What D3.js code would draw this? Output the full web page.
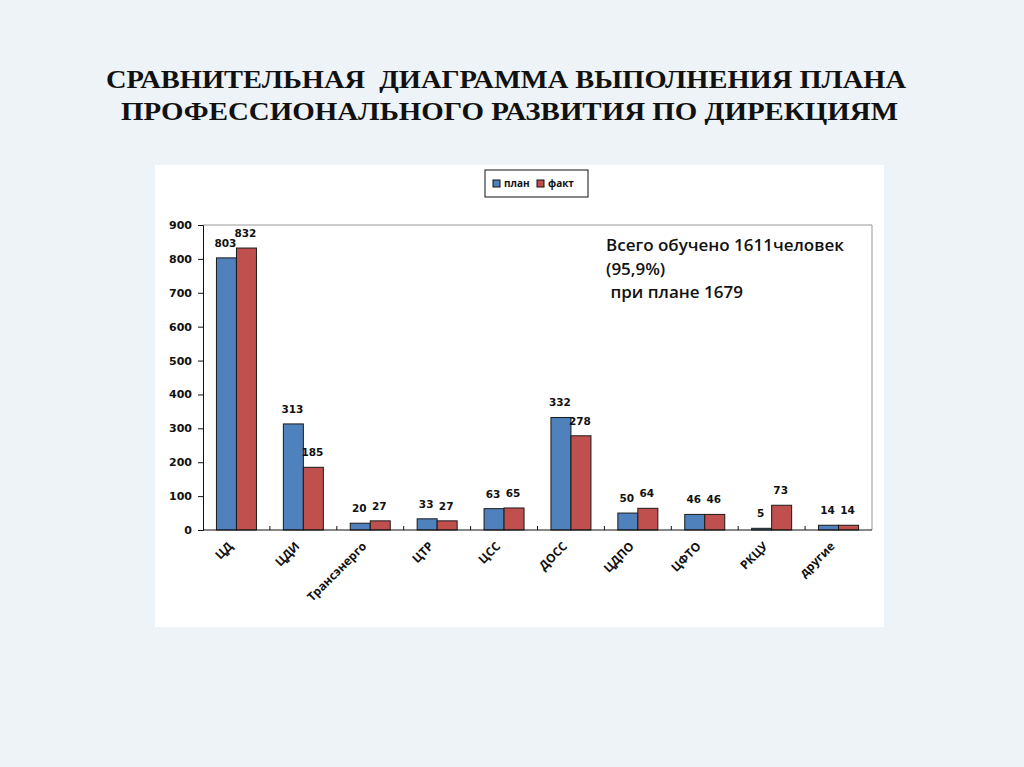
<!DOCTYPE html>
<html>
<head>
<meta charset="utf-8">
<script src="https://cdn.jsdelivr.net/npm/d3@7"></script>
<style>
  body { margin: 0; background: #eef3f7; }
  svg { display: block; }
</style>
</head>
<body>
<div id="chart-area"></div>
<script>
var categories = ["ЦД", "ЦДИ", "Трансэнерго", "ЦТР", "ЦСС", "ДОСС", "ЦДПО", "ЦФТО", "РКЦУ", "другие"];
var plan = [803, 313, 20, 33, 63, 332, 50, 46, 5, 14];
var fact = [832, 185, 27, 27, 65, 278, 64, 46, 73, 14];
var yTicks = [0, 100, 200, 300, 400, 500, 600, 700, 800, 900];
var seriesNames = ["план", "факт"];
var colors = ["#4f81bd", "#c0504d"];
var titleLines = ["СРАВНИТЕЛЬНАЯ  ДИАГРАММА ВЫПОЛНЕНИЯ ПЛАНА", "ПРОФЕССИОНАЛЬНОГО РАЗВИТИЯ ПО ДИРЕКЦИЯМ"];
var noteLines = ["Всего обучено 1611человек", "(95,9%)", " при плане 1679"];

var svg = d3.select("#chart-area").append("svg")
    .attr("width", 1024)
    .attr("height", 767);

svg.append("rect")
  .attr("width", 1024).attr("height", 767)
  .attr("fill", "#eef3f7");

// title
var title = svg.append("g")
  .attr("font-family", "'Liberation Serif', 'Times New Roman', serif")
  .attr("font-weight", "bold")
  .attr("font-size", "26px")
  .attr("fill", "#111");
title.append("text").attr("x", 106).attr("y", 88)
  .attr("textLength", 800).attr("lengthAdjust", "spacingAndGlyphs")
  .style("white-space", "pre")
  .text(titleLines[0]);
title.append("text").attr("x", 121).attr("y", 120)
  .attr("textLength", 777).attr("lengthAdjust", "spacingAndGlyphs")
  .text(titleLines[1]);

// white chart box
svg.append("rect")
  .attr("x", 155).attr("y", 165)
  .attr("width", 729).attr("height", 462)
  .attr("fill", "#fff");

var margin = {left: 203, top: 225};
var width = 872 - 203;
var height = 530 - 225;

var g = svg.append("g")
  .attr("transform", "translate(" + margin.left + ", " + margin.top + ")");

var x = d3.scaleBand()
  .domain(categories)
  .range([0, width]);

var x1 = d3.scaleBand()
  .domain([0, 1])
  .range([0, 40]);

var y = d3.scaleLinear()
  .domain([0, 900])
  .range([height, 0]);

// plot area border (top and right)
g.append("path")
  .attr("d", "M0,0H" + width + "V" + height)
  .attr("fill", "none")
  .attr("stroke", "#999")
  .attr("stroke-width", 1);

var data = categories.map((c, i) => ({cat: c, vals: [plan[i], fact[i]]}));

var groups = g.selectAll(".grp")
  .data(data)
  .enter().append("g")
    .attr("class", "grp")
    .attr("transform", d => "translate(" + (x(d.cat) + (x.bandwidth() - 40) / 2) + ",0)");

groups.selectAll("rect")
  .data(d => d.vals.map((v, k) => ({v: v, k: k})))
  .enter().append("rect")
    .attr("x", d => x1(d.k))
    .attr("y", d => y(d.v))
    .attr("width", x1.bandwidth())
    .attr("height", d => height - y(d.v))
    .attr("fill", d => colors[d.k])
    .attr("stroke", "#1a1a1a")
    .attr("stroke-width", 1);

groups.selectAll("text")
  .data(d => d.vals.map((v, k) => ({v: v, k: k})))
  .enter().append("text")
    .attr("x", d => x1(d.k) + x1.bandwidth() / 2 - 1)
    .attr("y", d => y(d.v) - 11)
    .attr("text-anchor", "middle")
    .attr("font-family", "'DejaVu Sans', Verdana, sans-serif")
    .attr("font-weight", "bold")
    .attr("font-size", "10.5px")
    .attr("fill", "#111")
    .text(d => d.v);

// Y axis
var yAxisCall = d3.axisLeft(y)
  .tickValues(yTicks)
  .tickSize(5)
  .tickPadding(6);
var yAxisGroup = g.append("g").call(yAxisCall);
yAxisGroup.select(".domain").attr("stroke", "#111");
yAxisGroup.selectAll("line").attr("stroke", "#111");
yAxisGroup.selectAll("text")
  .attr("font-family", "'DejaVu Sans', Verdana, sans-serif")
  .attr("font-weight", "bold")
  .attr("font-size", "11px")
  .attr("fill", "#111");

// X axis
var xAxisGroup = g.append("g")
  .attr("transform", "translate(0," + height + ")");
xAxisGroup.append("line")
  .attr("x1", 0).attr("x2", width)
  .attr("stroke", "#111");
xAxisGroup.selectAll(".tk")
  .data(categories.slice(1))
  .enter().append("line")
    .attr("x1", d => x(d)).attr("x2", d => x(d))
    .attr("y1", 0).attr("y2", -4)
    .attr("stroke", "#111");
xAxisGroup.selectAll(".lbl")
  .data(categories)
  .enter().append("text")
    .attr("transform", d => "translate(" + (x(d) + x.bandwidth() / 2 - 3) + ",17) rotate(-45)")
    .attr("text-anchor", "end")
    .attr("font-family", "'Open Sans', 'Liberation Sans', sans-serif")
    .attr("font-weight", "bold")
    .attr("font-size", "12px")
    .attr("fill", "#111")
    .text(d => d);

// legend
var legend = svg.append("g").attr("transform", "translate(485,170)");
legend.append("rect")
  .attr("width", 103).attr("height", 27)
  .attr("fill", "#fff").attr("stroke", "#111");
var items = legend.selectAll(".li")
  .data(seriesNames)
  .enter().append("g")
    .attr("transform", (d, i) => "translate(" + (8 + i * 44) + ",10)");
items.append("rect")
  .attr("width", 7).attr("height", 7)
  .attr("fill", (d, i) => colors[i])
  .attr("stroke", "#111");
items.append("text")
  .attr("x", 11).attr("y", 7)
  .attr("font-family", "'Open Sans', 'Liberation Sans', sans-serif")
  .attr("font-weight", "bold")
  .attr("font-size", "10px")
  .attr("fill", "#111")
  .text(d => d);

// note
svg.append("g")
  .selectAll("text")
  .data(noteLines)
  .enter().append("text")
    .attr("x", 606)
    .attr("y", (d, i) => 251 + i * 23.5)
    .style("white-space", "pre")
    .attr("font-family", "'Open Sans', 'Liberation Sans', sans-serif")
    .attr("font-weight", 600)
    .attr("font-size", "17px")
    .attr("fill", "#111")
    .text(d => d);
</script>
</body>
</html>
